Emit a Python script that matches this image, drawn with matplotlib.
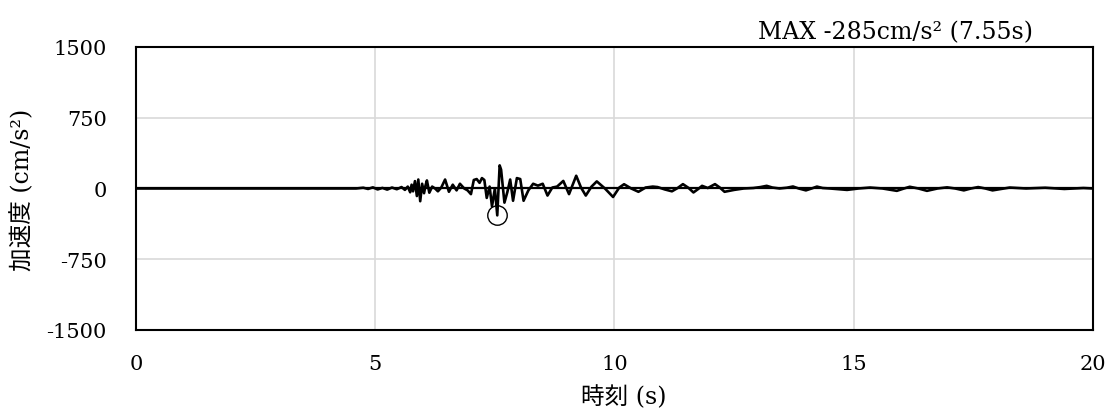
#!/usr/bin/env python3
"""
Acceleration time history plot (加速度 vs 時刻).
"""

import matplotlib
matplotlib.use("Agg")
import matplotlib.pyplot as plt

plt.rcParams['font.family'] = ['DejaVu Serif', 'Noto Sans CJK JP']
plt.rcParams['axes.unicode_minus'] = False

# Time history (s, cm/s^2)
time_s = [0.0, 4.6, 4.75, 4.85, 4.95, 5.05, 5.15, 5.25, 5.35, 5.45, 5.55,
          5.62, 5.68, 5.73, 5.76, 5.79, 5.83, 5.87, 5.90, 5.94, 5.98, 6.02,
          6.05, 6.08, 6.13, 6.19, 6.25, 6.31, 6.38, 6.46, 6.54, 6.62, 6.70,
          6.77, 6.86, 6.93, 7.00, 7.06, 7.12, 7.18, 7.23, 7.28, 7.33, 7.39,
          7.44, 7.50, 7.55, 7.60, 7.63, 7.70, 7.76, 7.82, 7.88, 7.96, 8.03,
          8.10, 8.20, 8.30, 8.40, 8.50, 8.60, 8.70, 8.80, 8.93, 9.05, 9.20,
          9.30, 9.40, 9.52, 9.63, 9.80, 9.97, 10.10, 10.20, 10.35, 10.50,
          10.65, 10.80, 10.90, 11.05, 11.20, 11.32, 11.43, 11.55, 11.65,
          11.75, 11.83, 11.95, 12.10, 12.20, 12.30, 12.40, 12.50, 12.70,
          12.90, 13.05, 13.18, 13.30, 13.45, 13.60, 13.73, 13.85, 14.00,
          14.12, 14.23, 14.35, 14.50, 14.70, 14.86, 15.10, 15.34, 15.60,
          15.75, 15.90, 16.05, 16.17, 16.35, 16.53, 16.75, 16.95, 17.12,
          17.30, 17.45, 17.60, 17.75, 17.90, 18.08, 18.26, 18.60, 19.00,
          19.40, 19.80, 20.0]
accel = [0, 0, 8, -5, 12, -10, 6, -12, 10, -8, 15,
         -15, 20, -40, 40, -30, 78, -80, 95, -135, 50, -50,
         30, 85, -45, 20, 0, -30, 10, 95, -35, 40, -20,
         50, 0, -20, -60, 90, 100, 60, 110, 90, -100, 20,
         -190, 0, -285, 245, 200, -150, -40, 95, -130, 110, 100,
         -130, -20, 50, 30, 50, -75, 10, 20, 80, -60, 135,
         10, -75, 20, 75, 0, -90, 10, 45, 0, -35,
         10, 20, 15, -10, -30, 5, 46, 5, -42,
         -5, 28, 5, 46, 10, -35, -25, -15, 0,
         5, 15, 28, 10, 0, 8, 21, 0, -20,
         0, 20, 5, 0, -8, -15, 0, 10, 0,
         -12, -25, 0, 18, 0, -25, 0, 12, 0,
         -20, 0, 15, 0, -20, -5, 10, 0, 8,
         -5, 5, 0]

# Peak annotation
peak_time = 7.55
peak_accel = -285
peak_text = "MAX -285cm/s\u00b2 (7.55s)"

x_ticks = [0, 5, 10, 15, 20]
y_ticks = [-1500, -750, 0, 750, 1500]

fig = plt.figure(figsize=(11.1, 4.1), dpi=100)
ax = fig.add_axes([0.1225, 0.1927, 0.8622, 0.6903])

ax.axhline(0, color='black', linewidth=1.6, zorder=2)
ax.plot(time_s, accel, color='black', linewidth=1.9, zorder=3)
ax.plot([peak_time], [peak_accel], marker='o', markersize=14,
        markerfacecolor='none', markeredgecolor='black',
        markeredgewidth=1.0, zorder=4)

ax.set_xlim(0, 20)
ax.set_ylim(-1500, 1500)
ax.set_xticks(x_ticks)
ax.set_yticks(y_ticks)
ax.tick_params(length=0, labelsize=15)
ax.tick_params(axis='x', pad=17)
ax.tick_params(axis='y', pad=21)

ax.grid(True, color='#d9d9d9', linewidth=1.2)
ax.set_axisbelow(True)
for spine in ax.spines.values():
    spine.set_linewidth(1.5)
    spine.set_color('black')

fig.text(0.562, 0.032, "時刻 (s)", fontsize=17, ha='center', va='center')
fig.text(0.020, 0.537, "加速度 (cm/s\u00b2)", rotation=90, fontsize=17,
         ha='center', va='center')
fig.text(0.807, 0.92, peak_text, fontsize=17, ha='center', va='center')

fig.savefig("out.png", dpi=100)
